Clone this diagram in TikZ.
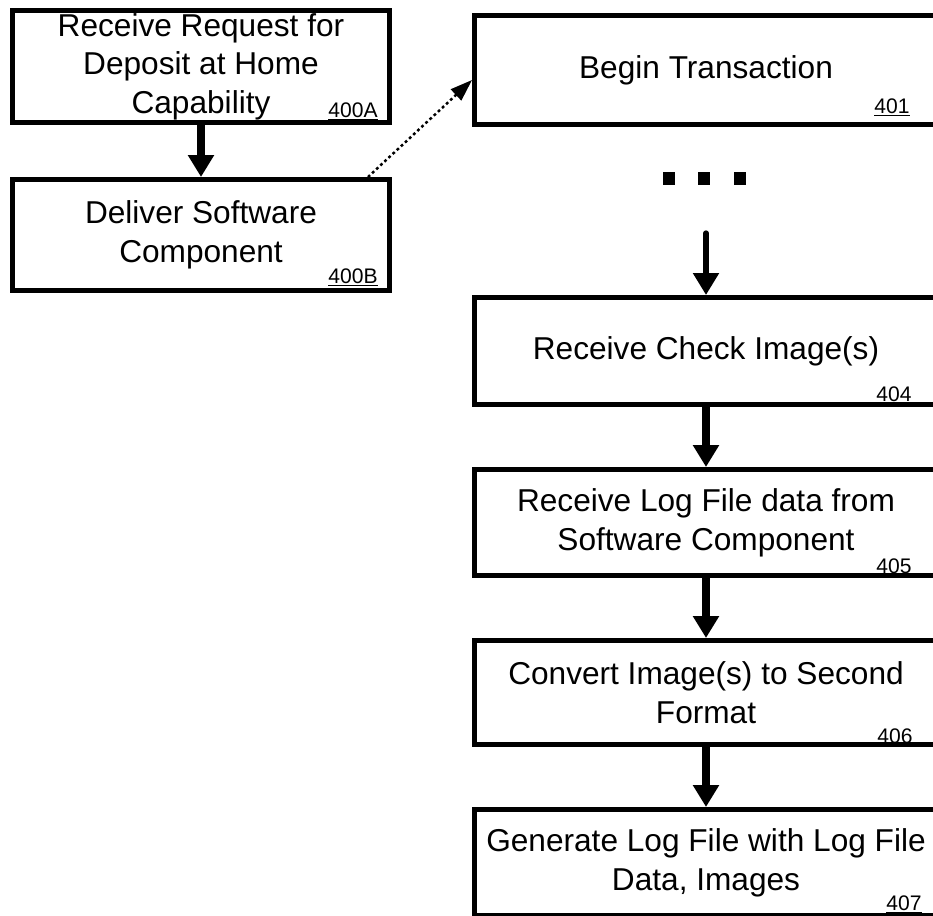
\documentclass[tikz,border=0pt]{standalone}
\usepackage{fontspec}
\setmainfont{Liberation Sans}
\usetikzlibrary{arrows.meta,calc}
\tikzset{
	stepbox/.style={draw, line width=2.85pt, align=center, inner sep=0pt,
			font=\fontsize{18}{22}\selectfont},
	leftbox/.style={stepbox, minimum width=7.54cm, minimum height=2.24cm},
	rightbox/.style={stepbox, minimum width=9.26cm, minimum height=2.14cm},
	refnum/.style={font=\fontsize{12}{14}\selectfont, inner sep=0pt, anchor=base east},
	flow/.style={line width=4pt, -{Triangle[length=12.5pt, width=14.2pt]}},
	dotsq/.style={fill, minimum width=0.24cm, minimum height=0.26cm, inner sep=0pt}
}

\begin{document}
\begin{tikzpicture}[x=0.02cm, y=-0.02cm]
		\useasboundingbox (0,0) rectangle (933,916);
		\clip (0,0) rectangle (933,916);

		% Left column
		\node[leftbox] (b400A) at (201,66.5) {Receive Request for\\Deposit at Home\\Capability};
		\node[leftbox, minimum height=2.22cm] (b400B) at (201,235) {Deliver Software\\Component};
		\node[refnum] (n400A) at (378,117) {\underline{400A}};
		\node[refnum] (n400B) at (378,283) {\underline{400B}};

		% Right column
		\node[rightbox, minimum height=2.18cm] (b401) at (706,70) {Begin Transaction};
		\node[dotsq] (dot1) at (669,178) {};
		\node[dotsq] (dot2) at (704,178) {};
		\node[dotsq] (dot3) at (740,178) {};
		\coordinate (resume) at (706,233);
		\node[rightbox] (b404) at (706,351) {Receive Check Image(s)};
		\node[rightbox, minimum height=2.12cm] (b405) at (706,522.5) {Receive Log File data from\\Software Component};
		\node[rightbox, minimum height=2.08cm] (b406) at (706,692.5) {Convert Image(s) to Second\\Format};
		\node[rightbox, minimum height=2.13cm] (b407) at (706,862.75) {Generate Log File with Log File\\Data, Images};

		\node[refnum] (n401) at (910,113) {\underline{401}};
		\node[refnum] (n404) at (912,401.5) {\underline{404}};
		\node[refnum] (n405) at (912,573) {\underline{405}};
		\node[refnum] (n406) at (913,743) {\underline{406}};
		\node[refnum] (n407) at (922,910) {\underline{407}};

		% Connectors
		\draw[flow] (b400A) -- (b400B);
		\draw[line width=1.4pt, dash pattern=on 1.6pt off 1.6pt,
			-{Triangle[length=12.5pt, width=8.5pt]}]
		([xshift=-0.48cm]b400B.north east) -- ([yshift=-0.2cm]b401.west);
		\draw[flow, line width=3pt, line cap=round] (resume) -- (b404);
		\draw[flow] (b404) -- (b405);
		\draw[flow] (b405) -- (b406);
		\draw[flow] (b406) -- (b407);
	\end{tikzpicture}
\end{document}
